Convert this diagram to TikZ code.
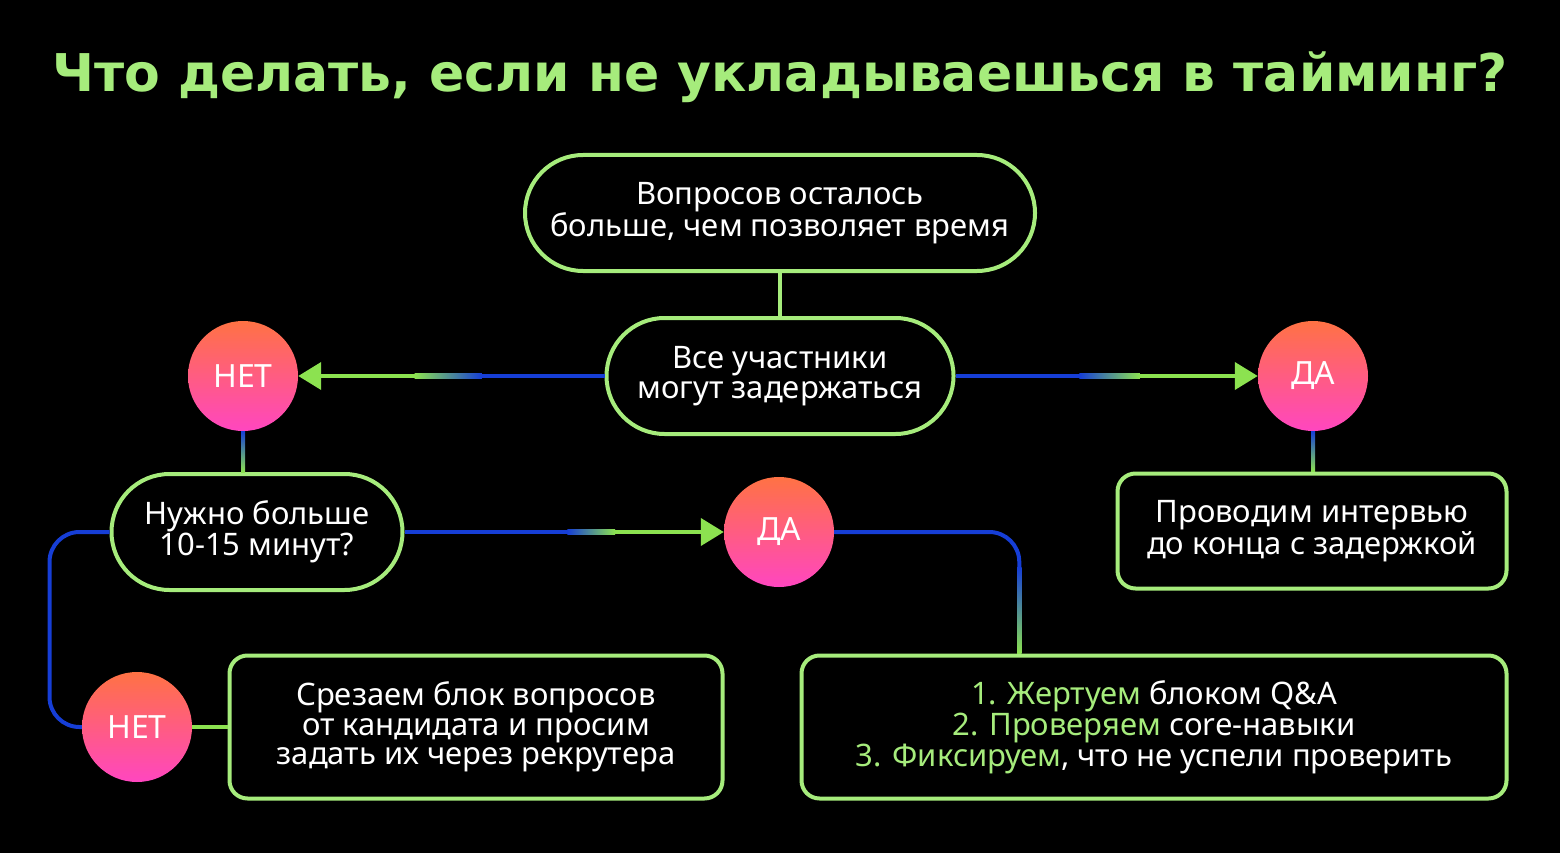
\documentclass[tikz,border=0pt]{standalone}
\usepackage{fontspec}
\setmainfont{Noto Sans}
\newfontfamily\headfont{DejaVu Sans}
\usetikzlibrary{arrows.meta,positioning,calc}
\definecolor{lgreen}{RGB}{166,236,124}
\definecolor{agreen}{RGB}{140,226,80}
\definecolor{lblue}{RGB}{22,62,214}
\definecolor{lmid}{RGB}{84,184,168}
\definecolor{ctop}{RGB}{255,114,68}
\definecolor{cbot}{RGB}{255,70,192}
\tikzset{
  pill/.style={draw=lgreen, line width=4pt, rounded corners=58pt, minimum height=116pt, text=white, align=center, font=\fontsize{31}{29.5}\selectfont},
  card/.style={draw=lgreen, line width=4pt, rounded corners=18pt, text=white, align=center, font=\fontsize{31}{29.5}\selectfont},
  answer/.style={circle, minimum size=110pt, inner sep=0pt, top color=ctop, bottom color=cbot, text=white, font=\fontsize{32}{32}\selectfont},
  link/.style={line width=4pt},
  arrow/.style={link, agreen, -{Triangle[length=23pt, width=27pt]}},
  heading/.style={text=lgreen, font=\headfont\bfseries\fontsize{52}{52}\selectfont}
}

\begin{document}
\begin{tikzpicture}[x=1pt,y=-1pt]
    \fill[black] (0,0) rectangle (1560,853);
    \useasboundingbox (0,0) rectangle (1560,853);

    \node[heading, anchor=base] (title) at (780,92) {Что делать, если не укладываешься в тайминг?};

    \node[pill, minimum width=510pt] (q1) at (780,213) {Вопросов осталось\\больше, чем позволяет время};
    \node[pill, minimum width=347pt] (q2) at (780,376) {Все участники\\могут задержаться};
    \node[answer] (no1) at (243,376) {НЕТ};
    \node[answer] (yes1) at (1313,376) {ДА};
    \node[pill, minimum width=291pt] (q3) at (257,532) {Нужно больше\\10-15 минут?};
    \node[answer] (yes2) at (779,532) {ДА};
    \node[card, minimum width=389pt, minimum height=115pt] (r1) at (1312,531) {Проводим интервью\\до конца с задержкой};
    \node[answer] (no2) at (137,727) {НЕТ};
    \node[card, minimum width=493pt, minimum height=143pt] (r2) at (476,727) {Срезаем блок вопросов\\от кандидата и просим\\задать их через рекрутера};
    \node[card, minimum width=705pt, minimum height=143pt] (r3) at (1154,727) {{\color{lgreen}1. Жертуем} блоком Q\&A\\{\color{lgreen}2. Проверяем} core-навыки\\{\color{lgreen}3. Фиксируем}, что не успели проверить};

    % top question
    \draw[link, lgreen] (q1.south) -- (q2.north);

    % everyone can stay longer?
    \draw[arrow] (q2.west) -- (no1.east);
    \draw[link, lblue] (q2.west) -- ($(q2.west)!0.41!(no1.east)$);
    \shade[left color=agreen, middle color=lmid, right color=lblue] ($(q2.west)!0.62!(no1.east)+(0,-2.2)$) rectangle ($(q2.west)!0.40!(no1.east)+(0,2.2)$);
    \draw[arrow] (q2.east) -- (yes1.west);
    \draw[link, lblue] (q2.east) -- ($(q2.east)!0.42!(yes1.west)$);
    \shade[left color=lblue, middle color=lmid, right color=agreen] ($(q2.east)!0.41!(yes1.west)+(0,-2.2)$) rectangle ($(q2.east)!0.61!(yes1.west)+(0,2.2)$);
    \shade[top color=lblue, bottom color=agreen] ($(yes1.south)+(-2,0)$) rectangle ($(yes1.south |- r1.north)+(2,0)$);
    \shade[top color=lblue, bottom color=agreen] ($(no1.south)+(-2,0)$) rectangle ($(no1.south |- q3.north)+(2,0)$);

    % need more than 10-15 min?
    \draw[arrow] (q3.east) -- (yes2.west);
    \draw[link, lblue] (q3.east) -- ($(q3.east)!0.52!(yes2.west)$);
    \shade[left color=lblue, middle color=lmid, right color=agreen] ($(q3.east)!0.51!(yes2.west)+(0,-2.2)$) rectangle ($(q3.east)!0.66!(yes2.west)+(0,2.2)$);
    \coordinate (drop) at ($(r3.north west)!0.31!(r3.north east)$);
    \draw[link, lblue, rounded corners=30pt] (yes2.east) -| (drop);
    \shade[top color=lblue, middle color=lmid, bottom color=agreen] ($(drop)+(-2.2,-86)$) rectangle ($(drop)+(2.2,0)$);
    \draw[link, lblue, rounded corners=30pt] (q3.west) -- ++(-60,0) |- (no2.west);
    \draw[link, agreen] (no2.east) -- (r2.west);
  \end{tikzpicture}
\end{document}
